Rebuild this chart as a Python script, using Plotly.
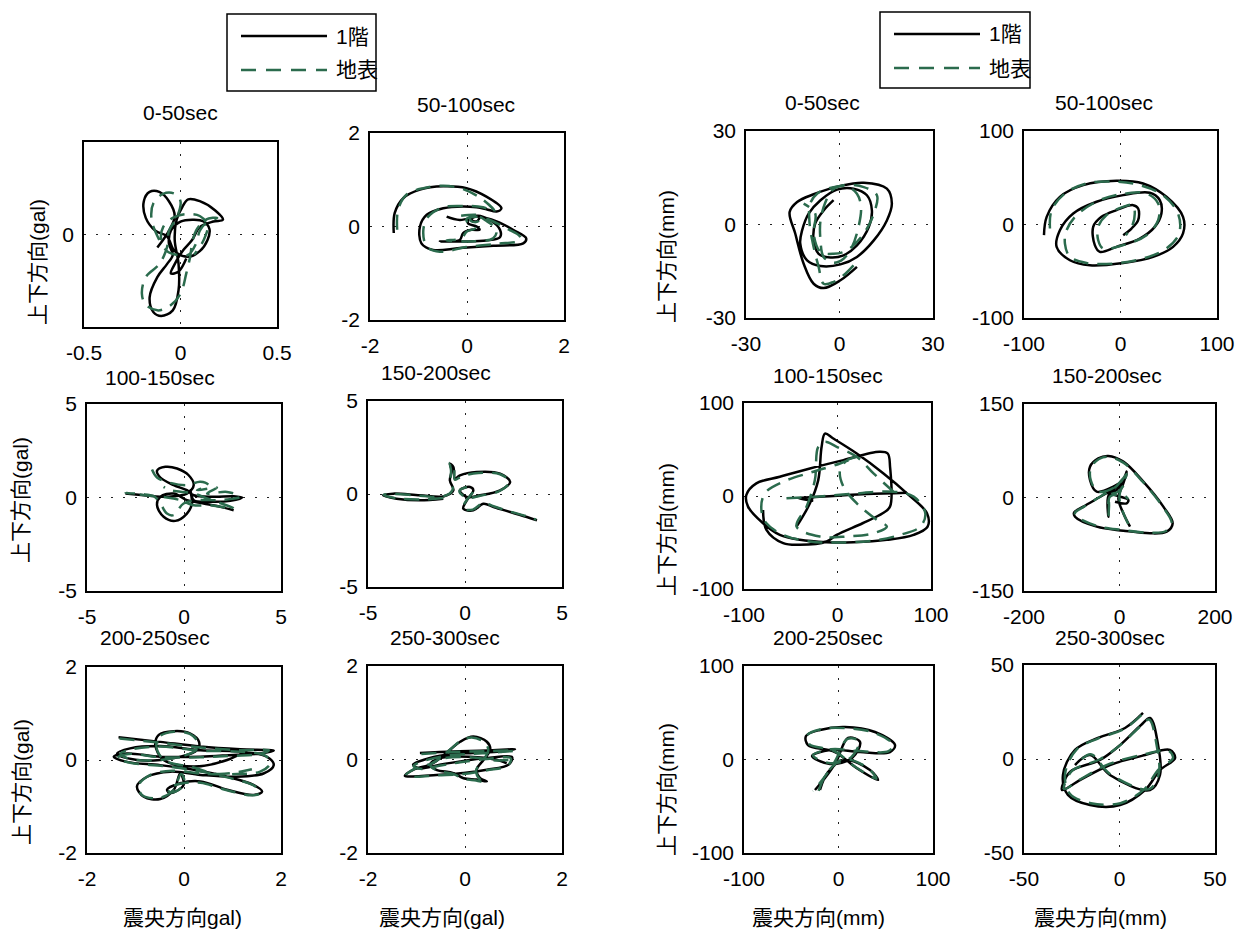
import plotly.graph_objects as go

W, H = 1242, 932
NUM_FONT = "Liberation Sans, Arial, sans-serif"
CJK_FONT = "Liberation Sans, Noto Sans CJK JP, sans-serif"
BLACK = "#000000"
GREEN = "#2b6b4d"

# ---------------- data ----------------
# Left group: acceleration orbits (gal)
L1_f1_x = [-0.12,-0.06,-0.03,-0.06,-0.11,-0.16,-0.19,-0.18,-0.13,-0.07,-0.03,0.04,0.10,0.14,0.15,0.12,0.07,0.00,-0.05,-0.06,-0.04,-0.07,-0.12,-0.16,-0.14,-0.10,-0.04,-0.01,-0.01,-0.03,-0.02,0.01,0.04,0.10,0.18,0.22,0.17,0.10,0.06,0.01,-0.03,-0.05,-0.01,0.03]
L1_f1_y = [-0.07,0.02,0.10,0.18,0.23,0.23,0.18,0.09,0.02,-0.01,-0.09,-0.12,-0.09,-0.03,0.03,0.07,0.08,0.07,0.02,-0.05,-0.11,-0.16,-0.23,-0.34,-0.42,-0.44,-0.41,-0.30,-0.16,-0.03,0.08,0.15,0.19,0.18,0.13,0.08,0.07,0.04,-0.03,-0.09,-0.16,-0.21,-0.20,-0.13]
L1_gs_x = [-0.11,-0.15,-0.14,-0.09,-0.03,0.00,-0.02,-0.06,-0.07,-0.11,-0.18,-0.20,-0.18,-0.12,-0.06,0.00,0.03,0.05,0.06,0.08,0.13,0.19,0.13,0.10,0.08,0.04,-0.02,-0.07,-0.10,-0.09,-0.04,0.03,0.10,0.14,0.12,0.07]
L1_gs_y = [-0.03,0.08,0.17,0.22,0.22,0.18,0.09,0.02,-0.07,-0.16,-0.23,-0.32,-0.38,-0.41,-0.39,-0.32,-0.21,-0.12,-0.05,0.02,0.08,0.09,0.06,0.02,-0.05,-0.11,-0.11,-0.09,-0.03,0.04,0.09,0.11,0.10,0.05,-0.03,-0.11]

L2_f1_x = [-1.51,-1.49,-1.31,-0.97,-0.49,-0.01,0.40,0.71,0.61,0.40,0.20,-0.08,-0.49,-0.83,-0.97,-0.94,-0.70,-0.15,0.54,1.16,1.22,0.95,0.61,0.26,0.06,0.02,0.20,0.26,0.09,-0.08,-0.15,-0.56,-0.08,0.40,0.68,0.68,0.47,0.20,0.09,0.20,0.26,-0.15,-0.42]
L2_f1_y = [-0.14,0.29,0.61,0.79,0.86,0.82,0.64,0.39,0.32,0.37,0.41,0.43,0.39,0.25,0.00,-0.36,-0.50,-0.46,-0.41,-0.36,-0.25,-0.07,0.11,0.21,0.18,0.07,0.00,-0.07,-0.07,-0.14,-0.29,-0.32,-0.32,-0.30,-0.23,-0.07,0.14,0.23,0.14,0.11,0.21,0.14,0.21]
L2_gs_x = [-1.44,-1.42,-1.25,-0.90,-0.49,-0.08,0.33,0.57,0.33,-0.08,-0.49,-0.80,-0.90,-0.83,-0.56,-0.01,0.61,1.09,1.09,0.81,0.47,0.20,-0.01,0.04,0.16,-0.01,-0.11,-0.42,0.06,0.54,0.61,0.37,0.16,0.06,0.09,0.23,0.26,-0.28]
L2_gs_y = [-0.07,0.36,0.68,0.82,0.87,0.80,0.57,0.32,0.41,0.44,0.41,0.21,-0.07,-0.43,-0.54,-0.44,-0.37,-0.30,-0.21,-0.04,0.14,0.21,0.16,0.04,-0.04,-0.11,-0.25,-0.30,-0.32,-0.25,-0.07,0.14,0.25,0.21,0.11,0.11,0.23,0.21]

L3_f1_x = [-3.02,-2.08,-1.22,-0.53,0.15,0.50,0.24,-0.36,-0.96,-1.39,-1.22,-0.53,0.15,0.50,1.53,2.56,2.99,2.39,1.36,0.50,0.33,0.41,0.15,-0.45,-1.05,-1.39,-1.22,-0.53,0.15,1.01,1.87,2.56]
L3_f1_y = [0.21,0.12,0.04,0.07,0.21,0.66,1.19,1.55,1.64,1.43,1.07,0.66,0.39,0.12,0.04,0.07,0.00,-0.18,-0.23,-0.14,0.39,-0.32,-0.86,-1.25,-1.03,-0.41,0.04,0.21,-0.14,-0.32,-0.50,-0.68]
L3_gs_x = [-1.65,-1.39,-0.70,0.15,0.84,1.27,0.67,1.70,1.19,2.22,2.90,1.87,0.84,-0.02,-0.53,-0.88,-1.22,-1.56,-2.25,-3.02,-1.91,-0.88,-0.19,0.50,1.36,2.56,1.19,0.50,-0.70,-1.05]
L3_gs_y = [1.50,1.07,0.78,0.66,0.84,0.66,0.39,0.53,0.21,0.30,0.04,-0.14,-0.14,-0.32,-0.94,-0.86,-0.32,0.07,0.18,0.25,0.11,0.00,-0.14,-0.41,-0.41,-0.59,-0.05,0.21,0.39,0.57]

L4_f1_x = [-1.12,-2.33,-3.53,-4.22,-3.71,-2.33,-1.12,-0.60,-0.78,-0.69,-0.78,-0.60,-0.52,-0.26,0.60,1.81,2.33,1.81,0.78,0.09,-0.26,0.26,0.43,0.09,-0.09,0.43,0.95,1.47,2.33,3.19,3.71]
L4_f1_y = [-0.25,-0.34,-0.25,-0.07,0.02,-0.07,-0.13,0.20,0.73,1.27,1.63,1.45,0.82,1.00,1.18,1.09,0.65,0.20,-0.07,-0.16,0.20,0.38,0.20,-0.34,-0.79,-0.88,-0.52,-0.70,-0.97,-1.24,-1.42]
L4_gs_x = [-1.12,-2.33,-3.53,-4.19,-3.71,-2.33,-1.12,-0.64,-0.74,-0.72,-0.78,-0.57,-0.52,-0.17,0.69,1.81,2.29,1.78,0.78,0.09,-0.29,0.22,0.40,0.05,-0.12,0.40,0.95,1.47,2.33,3.19,3.67]
L4_gs_y = [-0.22,-0.30,-0.23,-0.05,0.00,-0.09,-0.13,0.23,0.73,1.27,1.67,1.42,0.77,0.95,1.13,1.06,0.65,0.16,-0.09,-0.20,0.16,0.38,0.14,-0.38,-0.79,-0.84,-0.48,-0.66,-0.95,-1.20,-1.38]

L5_f1_x = [-1.35,-0.49,0.34,1.16,1.85,1.57,1.02,0.34,-0.49,-1.18,-1.45,-1.18,-0.49,0.20,0.89,1.44,1.61,1.44,0.89,0.34,-0.08,-0.35,-0.28,-0.01,-0.08,-0.21,-0.49,-0.83,-0.97,-0.76,-0.28,0.34,1.02,1.64,1.85,1.71,1.16,0.34,-0.49,-1.11,-1.38,-1.18,-0.49,0.27,0.31,0.13,-0.21,-0.52,-0.59,-0.42,0.20,0.89,1.30]
L5_f1_y = [0.49,0.39,0.29,0.23,0.20,0.14,0.11,0.07,0.07,0.14,0.07,-0.04,-0.11,-0.21,-0.36,-0.54,-0.68,-0.75,-0.64,-0.46,-0.50,-0.64,-0.71,-0.54,-0.29,-0.64,-0.84,-0.79,-0.57,-0.36,-0.25,-0.32,-0.36,-0.29,-0.11,0.07,0.18,0.21,0.30,0.25,0.14,0.04,0.00,0.21,0.39,0.57,0.62,0.54,0.32,0.00,-0.14,0.00,0.21]
L5_gs_x = [-1.33,-0.49,0.34,1.16,1.75,1.57,1.02,0.34,-0.49,-1.14,-1.38,-1.11,-0.42,0.27,0.96,1.47,1.57,1.40,0.85,0.34,-0.08,-0.34,-0.25,0.01,-0.06,-0.23,-0.52,-0.87,-0.93,-0.73,-0.25,0.41,1.09,1.57,1.78,1.68,1.13,0.34,-0.49,-1.07,-1.31,-1.14,-0.49,0.23,0.28,0.12,-0.21,-0.50,-0.57,-0.41,0.20,0.68,1.40]
L5_gs_y = [0.46,0.37,0.27,0.21,0.21,0.13,0.09,0.06,0.06,0.13,0.04,-0.06,-0.13,-0.23,-0.39,-0.57,-0.71,-0.76,-0.64,-0.49,-0.51,-0.63,-0.70,-0.51,-0.30,-0.66,-0.82,-0.75,-0.54,-0.34,-0.23,-0.30,-0.30,-0.25,-0.07,0.09,0.18,0.20,0.29,0.23,0.13,0.03,0.00,0.20,0.39,0.56,0.61,0.51,0.30,0.00,-0.16,-0.30,-0.20]

L6_f1_x = [-0.93,-0.24,0.45,1.03,0.72,0.17,-0.38,-0.86,-1.07,-0.93,-0.52,-0.10,0.45,0.97,0.90,0.45,-0.03,-0.59,-1.00,-1.24,-1.07,-0.66,-0.31,-0.10,0.17,0.45,0.52,0.38,0.24,0.31,0.45,0.24,-0.03,-0.24,-0.59,-0.72,-0.52,0.10,0.66,0.86]
L6_f1_y = [0.14,0.17,0.19,0.22,0.17,0.14,0.10,-0.01,-0.11,-0.19,-0.11,-0.04,0.03,0.05,-0.11,-0.22,-0.29,-0.33,-0.36,-0.35,-0.22,-0.08,0.21,0.38,0.49,0.38,0.21,-0.01,-0.22,-0.40,-0.47,-0.43,-0.40,-0.29,-0.22,-0.11,0.03,0.06,-0.01,-0.08]
L6_gs_x = [-0.90,-0.24,0.45,1.03,0.72,0.17,-0.38,-0.85,-1.06,-0.92,-0.50,-0.10,0.45,0.94,0.88,0.45,-0.03,-0.59,-1.00,-1.22,-1.06,-0.64,-0.30,-0.09,0.14,0.41,0.48,0.37,0.23,0.30,0.42,0.23,-0.03,-0.24,-0.59,-0.71,-0.50,0.10,0.66,0.90]
L6_gs_y = [0.12,0.16,0.18,0.19,0.16,0.12,0.08,-0.03,-0.14,-0.20,-0.13,-0.06,0.01,0.03,-0.13,-0.23,-0.31,-0.34,-0.37,-0.34,-0.21,-0.06,0.22,0.40,0.47,0.36,0.19,-0.02,-0.23,-0.42,-0.49,-0.45,-0.41,-0.31,-0.23,-0.13,0.01,0.05,-0.02,-0.01]

# Right group: displacement orbits (mm)
R1_f1_x = [5.6,0.3,-5.1,-8.3,-11.5,-14.2,-16.0,-13.6,-8.3,0.3,7.8,15.2,16.8,15.2,11.0,5.6,0.3,-6.1,-10.4,-12.6,-12.0,-9.9,-6.1,-0.8,4.5,8.8,10.4,9.4,5.6,1.3,-2.9,-6.7,-8.3,-7.8,-5.1,-1.9]
R1_f1_y = [-13.6,-17.9,-20.4,-19.0,-12.6,-2.9,4.0,7.2,9.7,12.4,13.4,11.5,6.7,1.3,-5.1,-10.4,-12.8,-13.3,-11.5,-6.1,-1.9,3.5,7.8,11.2,11.5,9.4,4.5,-0.8,-6.7,-9.9,-10.6,-9.4,-5.1,0.3,4.5,7.8]
R1_gs_x = [4.5,1.3,-1.9,-5.1,-6.7,-8.3,-9.6,-9.4,-7.2,-1.9,2.4,5.6,6.9,6.1,4.0,1.3,-1.9,-5.1,-6.1,-6.1,-4.5,-2.4,1.3,7.8,12.0,11.0,7.8,2.4,-1.9,-6.1,-8.3,-7.8,-11.5]
R1_gs_y = [-13.1,-16.3,-18.4,-19.0,-13.6,-7.2,0.3,6.7,9.9,12.0,12.2,9.9,5.6,-0.8,-7.2,-11.0,-12.3,-10.4,-5.1,1.3,7.2,11.0,12.6,12.0,9.4,3.5,-2.9,-8.3,-9.4,-8.8,-2.9,3.5,6.7]

R2_f1_x = [-79.3,-76.5,-62.8,-38.6,-4.1,23.4,47.6,64.8,64.8,54.5,33.8,2.8,-31.7,-52.4,-66.2,-62.8,-49.0,-24.8,2.8,30.3,40.7,42.4,35.5,20.0,-4.1,-21.4,-26.6,-28.3,-19.7,-4.1,13.1,18.3,18.3,11.4,2.8]
R2_f1_y = [-11.4,8.2,29.6,42.1,46.8,43.9,29.6,8.2,-9.6,-23.9,-34.6,-41.1,-43.6,-38.2,-23.9,-6.1,11.8,24.3,31.4,33.9,26.1,11.8,-2.5,-15.0,-23.9,-29.3,-22.1,-2.5,8.2,15.4,20.7,17.1,4.6,-4.3,-11.4]
R2_gs_x = [-73.1,-71.4,-57.6,-35.2,-4.1,20.0,44.1,59.6,60.7,47.6,23.4,-7.6,-35.2,-52.4,-57.6,-55.9,-45.5,-21.4,6.2,26.9,39.0,39.0,26.9,2.8,-17.9,-23.1,-23.1,-14.5,2.8,13.1,14.8,12.4,5.5]
R2_gs_y = [-4.3,15.4,33.2,43.9,45.7,42.1,31.4,11.8,-9.6,-25.7,-36.4,-41.8,-41.1,-34.6,-20.4,-6.1,10.0,26.1,33.2,33.2,22.5,4.6,-11.4,-22.1,-25.7,-16.8,-2.5,10.0,18.9,20.7,11.8,-0.7,-11.4]

R3_f1_x = [74.2,31.3,-4.5,-29.5,-42.0,-25.9,None,-43.8,-29.5,-20.6,-17.0,-13.4,-4.5,20.6,49.2,74.2,95.7,96.4,81.4,52.8,17.0,-11.6,-40.3,-61.7,-79.6,-95.7,-97.5,-86.8,-61.7,-29.5,6.3,44.8,53.7,56.2,56.2,48.3,26.8,-0.9,-11.6,-40.3,-58.1,-76.0,-79.6]
R3_f1_y = [3.6,2.1,0.0,-1.4,-2.5,-5.0,None,-32.9,-7.9,17.1,52.9,67.1,61.8,45.7,24.3,2.9,-18.6,-32.9,-41.8,-47.1,-49.6,-49.6,-47.1,-41.8,-29.3,-11.4,1.1,13.6,20.7,29.6,38.6,47.5,45.7,31.4,-11.4,-18.6,-29.3,-41.8,-48.9,-52.5,-50.7,-36.4,-15.0]
R3_gs_x = [-54.6,-22.4,13.4,59.9,81.4,93.9,88.6,67.1,38.5,2.7,-29.5,-58.1,-76.0,-81.4,-77.8,-58.1,-25.9,2.7,20.6,10.7,2.7,6.3,20.6,42.0,52.8,38.5,9.8,-18.8,-43.8,-33.1,-24.2,-20.6,-13.4,-0.9,20.6,38.5,59.9]
R3_gs_y = [-2.5,-0.7,2.1,4.6,-0.7,-18.6,-32.9,-41.8,-47.9,-50.0,-48.9,-41.8,-29.3,-15.0,2.9,15.4,26.1,35.0,42.1,38.6,27.9,10.0,-7.9,-25.7,-32.9,-40.0,-43.6,-43.6,-32.9,-11.4,17.1,52.9,58.2,52.9,42.1,24.3,4.6]

R4_f1_x = [22.0,8.0,-2.4,8.0,15.0,11.5,-12.9,-47.8,-61.8,-61.8,-44.3,-23.4,8.0,49.9,91.8,111.3,98.8,63.9,8.0,-47.8,-93.1,-95.2,-75.7,-33.9,-5.9,11.5,15.0,8.0,-5.9,-21.3,-23.4,-23.4,-22.0,1.0,18.5,15.0,-9.4]
R4_f1_y = [-46.8,-25.4,-1.3,22.7,38.8,30.8,17.4,9.4,28.1,49.5,62.8,66.6,57.5,25.4,-14.7,-41.4,-54.8,-57.5,-53.2,-46.8,-30.8,-24.3,-14.7,4.0,17.4,33.4,41.5,28.1,12.0,6.7,-12.0,-30.8,4.0,1.3,-4.0,-9.4,-6.7]
R4_gs_x = [18.5,7.0,-0.3,9.4,15.0,-5.9,-44.3,-60.3,-59.7,-42.9,-23.4,8.0,48.5,90.4,109.2,97.4,63.9,8.0,-46.4,-91.0,-93.1,-74.3,-32.5,-5.9,10.1,13.6,-2.4,-19.9,-22.0,-22.7,-19.9,8.0,18.5]
R4_gs_y = [-42.5,-22.7,1.3,25.4,37.7,18.4,9.4,28.1,48.4,61.8,65.5,55.9,25.4,-14.7,-40.4,-53.7,-56.4,-52.1,-45.7,-29.7,-24.3,-14.7,5.1,18.4,31.8,28.1,9.4,4.0,-14.7,-28.1,1.3,4.0,-2.9]

R5_f1_x = [-19.6,-11.1,6.9,33.3,41.8,19.0,-3.7,-32.3,-34.4,-19.6,6.9,38.6,59.8,54.5,22.8,-9.0,-28.0,-9.0,14.3,22.8,10.1,-2.6,-14.3,-24.9]
R5_f1_y = [-32.6,-13.4,-0.5,-11.2,-21.9,-9.1,8.0,15.5,25.1,31.6,34.8,29.4,15.5,8.0,8.0,10.2,3.7,-4.8,1.6,18.7,23.0,-2.7,-19.8,-32.6]
R5_gs_x = [-21.0,-12.0,6.0,32.0,40.0,18.0,-4.5,-31.0,-33.0,-18.5,7.5,38.0,57.5,53.0,22.0,-8.0,-27.0,-8.5,13.5,21.5,9.5,-3.5,-15.0,-27.0]
R5_gs_y = [-33.5,-14.0,0.5,-10.0,-20.5,-8.0,9.0,16.5,26.0,32.5,33.5,28.5,16.0,9.0,9.0,11.0,4.5,-4.0,2.5,19.5,22.0,-1.5,-19.0,-34.0]

R6_f1_x = [12.3,2.9,-11.3,-23.3,-29.6,-27.0,-15.4,0.3,13.4,21.2,29.1,26.4,13.4,-5.0,-20.7,-30.1,-25.9,-10.2,0.3,11.3,16.0,20.2,21.2,16.0,-5.0,-15.4,-23.3]
R6_f1_y = [24.5,16.5,11.2,4.8,-8.5,-19.1,-24.5,-24.5,-16.5,-5.9,0.5,4.8,2.1,-3.2,-11.2,-16.5,-6.9,-0.5,7.4,18.1,21.8,7.4,-8.5,-16.5,-8.5,2.1,-3.2]
R6_gs_x = [11.5,2.5,-11.0,-22.5,-28.5,-26.0,-15.0,0.5,13.0,20.5,28.0,25.5,13.0,-5.0,-20.0,-29.0,-25.0,-10.0,0.5,11.0,15.5,19.5,20.5,15.5,-5.0,-15.0,-22.5]
R6_gs_y = [23.5,16.0,11.0,5.0,-8.0,-18.5,-23.5,-23.5,-16.0,-5.5,0.5,4.5,2.5,-2.5,-10.5,-16.0,-6.5,0.0,7.5,17.5,21.0,7.0,-8.0,-16.0,-8.0,2.5,-3.0]

titles = ["0-50sec", "50-100sec", "100-150sec", "150-200sec", "200-250sec", "250-300sec"]
legend_names = ["1階", "地表"]
x_labels = ["震央方向gal)", "震央方向(gal)", "震央方向(mm)", "震央方向(mm)"]
y_label_gal = "上下方向(gal)"
y_label_mm = "上下方向(mm)"

series = [
    (L1_f1_x, L1_f1_y, L1_gs_x, L1_gs_y),
    (L2_f1_x, L2_f1_y, L2_gs_x, L2_gs_y),
    (L3_f1_x, L3_f1_y, L3_gs_x, L3_gs_y),
    (L4_f1_x, L4_f1_y, L4_gs_x, L4_gs_y),
    (L5_f1_x, L5_f1_y, L5_gs_x, L5_gs_y),
    (L6_f1_x, L6_f1_y, L6_gs_x, L6_gs_y),
    (R1_f1_x, R1_f1_y, R1_gs_x, R1_gs_y),
    (R2_f1_x, R2_f1_y, R2_gs_x, R2_gs_y),
    (R3_f1_x, R3_f1_y, R3_gs_x, R3_gs_y),
    (R4_f1_x, R4_f1_y, R4_gs_x, R4_gs_y),
    (R5_f1_x, R5_f1_y, R5_gs_x, R5_gs_y),
    (R6_f1_x, R6_f1_y, R6_gs_x, R6_gs_y),
]
x_limits = [0.5, 2, 5, 5, 2, 2, 30, 100, 100, 200, 100, 50]
y_limits = [0.5, 2, 5, 5, 2, 2, 30, 100, 100, 150, 100, 50]


def fmt(v):
    return "%g" % v  # plain ASCII hyphen for negatives


# ---------------- layout geometry (pixels) ----------------
boxes = [
    (84, 277, 142, 327), (370, 564, 133, 320),
    (87, 281, 404, 591), (368, 562, 401, 587),
    (87, 281, 667, 853), (368, 562, 666, 853),
    (746, 933, 131, 318), (1024, 1217, 131, 318),
    (744, 931, 403, 589), (1024, 1215, 404, 591),
    (744, 933, 666, 853), (1024, 1215, 665, 853),
]
title_pos = [(180, 113), (466, 104), (160, 377), (436, 372), (155, 637), (445, 637),
             (822, 103), (1104, 103), (828, 375), (1107, 376), (828, 637), (1110, 637)]

fig = go.Figure()
layout = dict(width=W, height=H, margin=dict(l=0, r=0, t=0, b=0, autoexpand=False),
              paper_bgcolor="white", plot_bgcolor="white", showlegend=False)
annotations = []
shapes = []

for i, ((fx, fy, gx, gy), (x0, x1, y0, y1)) in enumerate(zip(series, boxes)):
    n = i + 1
    xa = "xaxis" if n == 1 else f"xaxis{n}"
    ya = "yaxis" if n == 1 else f"yaxis{n}"
    xr = "x" if n == 1 else f"x{n}"
    yr = "y" if n == 1 else f"y{n}"
    fig.add_trace(go.Scatter(x=fx, y=fy, mode="lines", xaxis=xr, yaxis=yr,
                             line=dict(color=BLACK, width=2.5, shape="spline", smoothing=1.0),
                             connectgaps=False, name=legend_names[0]))
    fig.add_trace(go.Scatter(x=gx, y=gy, mode="lines", xaxis=xr, yaxis=yr,
                             line=dict(color=GREEN, width=2.5, dash="15px,9px", shape="spline", smoothing=1.0),
                             name=legend_names[1]))
    XL, YL = x_limits[i], y_limits[i]
    common = dict(showline=True, mirror=True, linecolor="black", linewidth=1.5,
                  showgrid=True, gridcolor="#222222", gridwidth=1, griddash="2px,10px",
                  zeroline=False, ticks="", fixedrange=True, automargin=False,
                  tickfont=dict(family=NUM_FONT, size=21, color="black"))
    xtv = [-XL, 0, XL]
    layout[xa] = dict(common, domain=[x0 / W, x1 / W], range=[-XL, XL],
                      tickvals=xtv, ticktext=[fmt(v) for v in xtv], anchor=yr,
                      ticklabelstandoff=6)
    ytv = [0] if i == 0 else [-YL, 0, YL]
    layout[ya] = dict(common, domain=[1 - y1 / H, 1 - y0 / H], range=[-YL, YL],
                      tickvals=ytv, ticktext=[fmt(v) for v in ytv], anchor=xr,
                      ticklabelstandoff=4)
    tx, ty = title_pos[i]
    annotations.append(dict(text=titles[i % 6], x=tx / W, y=1 - ty / H, xref="paper", yref="paper",
                            showarrow=False, xanchor="center", yanchor="middle",
                            font=dict(family=NUM_FONT, size=21, color="black")))

# axis labels
for txt, (px, py) in zip(x_labels, [(182, 917), (442, 917), (818, 917), (1100, 917)]):
    annotations.append(dict(text=txt, x=px / W, y=1 - py / H, xref="paper", yref="paper",
                            showarrow=False, xanchor="center", yanchor="middle",
                            font=dict(family=CJK_FONT, size=21, color="black")))
for txt, (px, py) in [(y_label_gal, (37, 262)), (y_label_gal, (21, 500)), (y_label_gal, (21, 782)),
                      (y_label_mm, (666, 257)), (y_label_mm, (666, 530)), (y_label_mm, (666, 790))]:
    annotations.append(dict(text=txt, x=px / W, y=1 - py / H, xref="paper", yref="paper",
                            showarrow=False, xanchor="center", yanchor="middle", textangle=-90,
                            font=dict(family=CJK_FONT, size=21, color="black")))

# legends (two boxes)
for (bx0, by0, bx1, by1) in [(227, 14, 376, 91), (880, 12, 1030, 88)]:
    shapes.append(dict(type="rect", xref="paper", yref="paper",
                       x0=bx0 / W, x1=bx1 / W, y0=1 - by1 / H, y1=1 - by0 / H,
                       line=dict(color="black", width=1.5), fillcolor="white", layer="above"))
    rows = [(by0 + 22, BLACK, "solid", legend_names[0]), (by0 + 56, GREEN, "15px,10px", legend_names[1])]
    for (ry, col, dsh, name) in rows:
        shapes.append(dict(type="line", xref="paper", yref="paper",
                           x0=(bx0 + 14) / W, x1=(bx0 + 100) / W, y0=1 - ry / H, y1=1 - ry / H,
                           line=dict(color=col, width=2.5, dash=dsh), layer="above"))
        annotations.append(dict(text=name, x=(bx0 + 107) / W, y=1 - ry / H, xref="paper", yref="paper",
                                showarrow=False, xanchor="left", yanchor="middle",
                                font=dict(family=CJK_FONT, size=21, color="black")))

layout["annotations"] = annotations
layout["shapes"] = shapes
fig.update_layout(**layout)
fig.write_html("out.html", config={"displayModeBar": False},
               post_script="document.body.style.margin='0px';")
